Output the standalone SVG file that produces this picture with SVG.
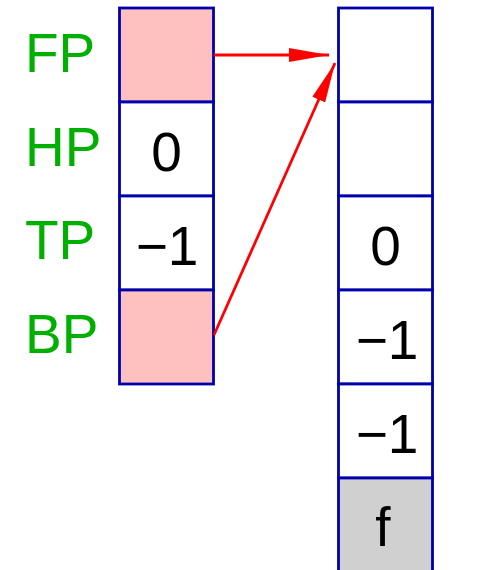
<svg xmlns="http://www.w3.org/2000/svg" width="492" height="570" viewBox="0 0 492 570">
<style>
.c{stroke:#0000aa;stroke-width:2.8}
.w{fill:#ffffff}
.p{fill:#ffc0c0}
.g{fill:#d0d0d0}
.lbl{font-family:"Liberation Sans",Arial,sans-serif;font-size:55px;fill:#00b000}
.v{font-family:"Liberation Sans",Arial,sans-serif;font-size:55px;fill:#000;text-anchor:middle}
.a{stroke:#ff0000;stroke-width:2.8;fill:none}
</style>
<defs>
<marker id="ah" markerUnits="userSpaceOnUse" viewBox="0 0 40 14" refX="40" refY="7" markerWidth="40" markerHeight="14" orient="auto">
<path d="M0,0 L40,7 L0,14 z" fill="#ff0000"/>
</marker>
</defs>
<g id="labels">
<text class="lbl" x="25" y="72">FP</text>
<text class="lbl" x="25" y="166">HP</text>
<text class="lbl" x="25" y="259">TP</text>
<text class="lbl" x="25" y="353">BP</text>
</g>
<g id="left">
<g id="l0"><rect class="c p" x="119.5" y="8" width="94" height="94"/></g>
<g id="l1"><rect class="c w" x="119.5" y="102" width="94" height="94"/><text class="v" x="166.5" y="171">0</text></g>
<g id="l2"><rect class="c w" x="119.5" y="196" width="94" height="94"/><text class="v" x="167" y="265">−1</text></g>
<g id="l3"><rect class="c p" x="119.5" y="290" width="94" height="94"/></g>
</g>
<g id="right">
<g id="r0"><rect class="c w" x="338.5" y="8" width="94" height="94"/></g>
<g id="r1"><rect class="c w" x="338.5" y="102" width="94" height="94"/></g>
<g id="r2"><rect class="c w" x="338.5" y="196" width="94" height="94"/><text class="v" x="385.5" y="265">0</text></g>
<g id="r3"><rect class="c w" x="338.5" y="290" width="94" height="94"/><text class="v" x="387" y="359">−1</text></g>
<g id="r4"><rect class="c w" x="338.5" y="384" width="94" height="94"/><text class="v" x="387" y="453">−1</text></g>
<g id="r5"><rect class="c g" x="338.5" y="478" width="94" height="94"/><text class="v" x="383" y="546">f</text></g>
</g>
<g id="connectors">
<line class="a" x1="214" y1="55" x2="329" y2="55" marker-end="url(#ah)"/>
<line class="a" x1="214" y1="335" x2="335" y2="63" marker-end="url(#ah)"/>
</g>
</svg>
